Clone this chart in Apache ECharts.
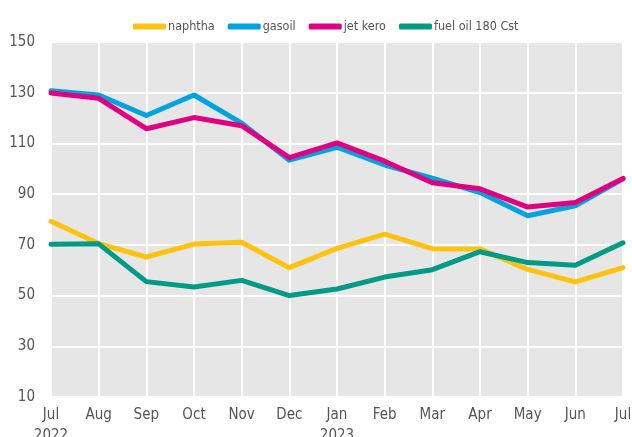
<!DOCTYPE html>
<html>
<head>
<meta charset="utf-8">
<script src="https://cdn.jsdelivr.net/npm/echarts@6/dist/echarts.min.js"></script>
<style>
  html, body { margin: 0; padding: 0; background: #fff; }
  #chart { width: 632px; height: 437px; }
</style>
</head>
<body>
<div id="chart"></div>
<script>
const months = ["Jul", "Aug", "Sep", "Oct", "Nov", "Dec", "Jan", "Feb", "Mar", "Apr", "May", "Jun", "Jul"];
const years = ["2022", "", "", "", "", "", "2023", "", "", "", "", "", ""];

const naphtha = [79.3, 70.5, 65.2, 70.3, 71, 61, 68.6, 74.2, 68.5, 68.4, 60.3, 55.4, 61];
const gasoil = [130.8, 129.1, 121, 129.1, 118, 103.4, 108.5, 101.5, 96.3, 90.6, 81.5, 85.4, 96];
const jetKero = [129.9, 127.8, 115.8, 120.2, 117, 104.4, 110.2, 103, 94.5, 92.1, 84.9, 86.7, 96.2];
const fuelOil = [70.2, 70.4, 55.5, 53.4, 56, 50, 52.6, 57.3, 60.2, 67.3, 63, 62, 70.8];

const FONT = "'Liberation Sans Narrow', 'DejaVu Sans Condensed', sans-serif";
const categories = months.map((m, i) => years[i] ? m + "\n" + years[i] : m);

const chart = echarts.init(document.getElementById("chart"), null, { renderer: "canvas" });

function line(name, data, color) {
  return {
    name: name,
    type: "line",
    data: data,
    symbol: "none",
    color: color,
    lineStyle: { width: 5, color: color, cap: "round", join: "round" }
  };
}

chart.setOption({
  animation: false,
  textStyle: { fontFamily: FONT },
  legend: {
    top: 15,
    left: 128,
    itemWidth: 33,
    itemHeight: 6,
    itemGap: 13,
    icon: "roundRect",
    textStyle: { fontFamily: FONT, fontSize: 12.5, color: "#555", padding: [0, 0, 0, -3] },
    data: ["naphtha", "gasoil", "jet kero", "fuel oil 180 Cst"]
  },
  grid: {
    left: 51, right: 9, top: 42, bottom: 40,
    outerBoundsMode: "none",
    containLabel: false,
    show: true, backgroundColor: "#e6e6e6", borderWidth: 0
  },
  xAxis: {
    type: "category",
    boundaryGap: false,
    data: categories,
    axisLine: { show: false },
    axisTick: { show: false },
    splitLine: { show: true, lineStyle: { color: "#fff", width: 2 } },
    axisLabel: { color: "#555", fontSize: 15, lineHeight: 21, margin: 8, fontFamily: FONT }
  },
  yAxis: {
    type: "value",
    min: 10, max: 150, interval: 20,
    axisLine: { show: false },
    axisTick: { show: false },
    splitLine: { lineStyle: { color: "#fff", width: 2 } },
    axisLabel: { color: "#555", fontSize: 15, margin: 16, fontFamily: FONT }
  },
  series: [
    line("naphtha", naphtha, "#ffc20e"),
    line("gasoil", gasoil, "#00a3e0"),
    line("jet kero", jetKero, "#e0007f"),
    line("fuel oil 180 Cst", fuelOil, "#009a85")
  ]
});
</script>
</body>
</html>
